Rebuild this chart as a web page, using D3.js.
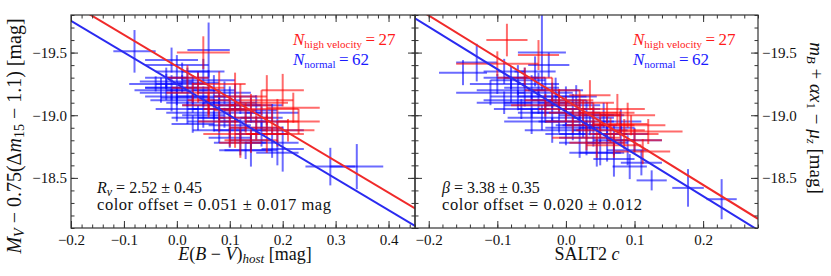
<!DOCTYPE html>
<html>
<head>
<meta charset="utf-8">
<script src="https://cdn.jsdelivr.net/npm/d3@7"></script>
<style>
  body { margin: 0; background: #fff; }
  svg text { font-family: "Liberation Serif", "Times New Roman", Tinos, "DejaVu Serif", serif; }
</style>
</head>
<body>
<svg id="chart" width="831" height="276"></svg>
<script>
// ---- data: [x, y, xerr, yerr] ----
var leftBlue = [
  [-0.08,-19.51,0.04,0.17],[-0.01,-19.44,0.05,0.10],[0.06,-19.52,0.04,0.22],[0.00,-19.40,0.06,0.08],
  [-0.02,-19.27,0.05,0.06],[-0.01,-19.22,0.05,0.10],[-0.02,-19.18,0.05,0.06],[0.00,-19.15,0.06,0.07],
  [-0.01,-19.12,0.04,0.09],[0.01,-19.25,0.05,0.07],[0.02,-19.30,0.04,0.08],[0.03,-19.20,0.05,0.12],
  [0.00,-19.05,0.04,0.10],[0.03,-19.10,0.05,0.08],[0.04,-19.26,0.04,0.09],[0.05,-19.15,0.05,0.08],
  [0.05,-19.00,0.04,0.10],[0.06,-19.08,0.05,0.07],[0.07,-19.20,0.04,0.12],[0.07,-18.95,0.05,0.08],
  [0.08,-19.05,0.05,0.09],[0.08,-19.12,0.04,0.07],[0.09,-18.98,0.05,0.08],[0.10,-19.10,0.05,0.13],
  [0.10,-18.92,0.04,0.10],[0.11,-19.02,0.05,0.08],[0.12,-18.88,0.05,0.09],[0.12,-19.08,0.04,0.07],
  [0.13,-18.95,0.05,0.08],[0.14,-19.04,0.05,0.10],[0.14,-18.80,0.04,0.08],[0.15,-18.90,0.05,0.09],
  [0.16,-18.85,0.05,0.10],[0.17,-18.95,0.04,0.08],[0.18,-18.78,0.05,0.12],[0.19,-18.88,0.05,0.09],
  [0.20,-18.73,0.04,0.18],[0.13,-18.72,0.05,0.07],[0.29,-18.59,0.047,0.15],[0.34,-18.59,0.05,0.18],
  [-0.03,-19.20,0.05,0.10],[-0.02,-19.30,0.04,0.08],[0.01,-19.35,0.05,0.07],[0.02,-19.02,0.04,0.09],
  [0.04,-18.98,0.05,0.10],[0.06,-19.28,0.05,0.08],[0.09,-19.18,0.05,0.09],[0.11,-19.15,0.04,0.10],
  [0.15,-19.08,0.05,0.08],[0.16,-18.98,0.04,0.09],[0.18,-19.02,0.05,0.07],[0.08,-18.88,0.05,0.10],
  [0.10,-18.82,0.04,0.08],[0.12,-18.78,0.05,0.10],[0.03,-18.93,0.04,0.07],[-0.04,-19.25,0.05,0.06],
  [0.00,-19.22,0.06,0.10],[0.02,-19.14,0.05,0.07],[0.05,-19.35,0.04,0.10],[0.07,-19.05,0.05,0.08],
  [0.14,-18.72,0.05,0.13],[0.19,-18.70,0.04,0.10]
];
var leftRed = [
  [0.05,-19.50,0.05,0.13],[0.02,-19.30,0.04,0.10],[0.04,-19.22,0.05,0.12],[0.06,-19.12,0.04,0.12],
  [0.08,-19.25,0.05,0.10],[0.10,-19.05,0.05,0.10],[0.11,-19.04,0.04,0.30],[0.12,-19.15,0.05,0.10],
  [0.13,-18.98,0.05,0.12],[0.14,-19.08,0.04,0.09],[0.15,-18.90,0.05,0.10],[0.16,-19.10,0.05,0.10],
  [0.17,-19.12,0.05,0.20],[0.17,-18.85,0.04,0.15],[0.18,-18.95,0.05,0.10],[0.19,-19.05,0.04,0.08],
  [0.20,-19.20,0.04,0.13],[0.22,-19.06,0.05,0.12],[0.19,-18.85,0.05,0.10],[0.21,-18.88,0.05,0.09],
  [0.08,-18.95,0.04,0.08],[0.10,-18.85,0.05,0.10],[0.12,-18.78,0.04,0.12],[0.14,-18.80,0.05,0.10],
  [0.06,-19.08,0.05,0.10],[0.03,-19.18,0.05,0.08],[0.23,-18.95,0.04,0.10]
];
var rightBlue = [
  [-0.15,-19.34,0.035,0.10],[-0.13,-19.42,0.03,0.15],[-0.035,-19.50,0.035,0.30],[-0.09,-19.35,0.03,0.10],
  [-0.10,-19.25,0.04,0.08],[-0.08,-19.20,0.05,0.10],[-0.07,-19.28,0.04,0.12],[-0.06,-19.15,0.05,0.08],
  [-0.05,-19.22,0.04,0.10],[-0.04,-19.10,0.05,0.09],[-0.03,-19.18,0.04,0.12],[-0.02,-19.05,0.05,0.10],
  [-0.01,-19.12,0.04,0.08],[0.00,-19.02,0.05,0.10],[0.01,-19.08,0.04,0.09],[0.02,-18.95,0.05,0.10],
  [0.03,-19.00,0.04,0.12],[0.035,-18.92,0.04,0.08],[0.04,-18.85,0.05,0.10],[0.05,-18.70,0.03,0.10],
  [0.06,-18.90,0.04,0.09],[0.07,-18.80,0.03,0.12],[0.093,-18.59,0.025,0.10],[0.125,-18.48,0.022,0.08],
  [0.178,-18.42,0.023,0.15],[0.227,-18.33,0.022,0.16],[-0.06,-19.30,0.03,0.08],[-0.05,-19.08,0.04,0.10],
  [-0.04,-19.25,0.03,0.09],[-0.03,-19.02,0.04,0.08],[-0.02,-19.15,0.05,0.11],[-0.01,-18.95,0.03,0.09],
  [0.00,-19.10,0.04,0.13],[0.01,-18.90,0.04,0.10],[0.02,-19.05,0.03,0.08],[0.03,-18.82,0.04,0.14],
  [0.04,-18.98,0.03,0.09],[0.05,-18.88,0.04,0.10],[0.06,-18.78,0.03,0.15],[0.08,-18.85,0.04,0.09],
  [0.09,-18.72,0.03,0.12],[0.10,-18.80,0.04,0.10],[-0.08,-19.30,0.04,0.09],[-0.07,-19.12,0.05,0.08],
  [-0.11,-19.18,0.05,0.10],[-0.09,-19.10,0.04,0.09],[-0.02,-18.88,0.04,0.10],[0.00,-18.85,0.03,0.09],
  [-0.05,-18.95,0.04,0.10],[0.02,-18.78,0.03,0.12],[0.045,-18.70,0.04,0.11],[0.07,-18.65,0.03,0.14],
  [-0.015,-19.20,0.04,0.10],[0.015,-19.15,0.03,0.09],[-0.035,-18.98,0.05,0.10],[-0.065,-19.05,0.04,0.08],
  [0.055,-19.00,0.03,0.10],[0.025,-18.92,0.04,0.10],[-0.045,-19.35,0.03,0.12],[-0.025,-19.40,0.03,0.10],
  [0.11,-18.62,0.03,0.10],[0.08,-18.95,0.03,0.10]
];
var rightRed = [
  [-0.086,-19.60,0.03,0.13],[-0.10,-19.41,0.06,0.10],[-0.04,-19.48,0.03,0.12],[-0.02,-19.20,0.04,0.10],
  [-0.01,-19.12,0.05,0.09],[0.00,-19.05,0.04,0.10],[0.02,-19.10,0.05,0.10],[0.035,-19.16,0.03,0.12],
  [0.04,-19.00,0.04,0.10],[0.05,-18.92,0.05,0.10],[0.06,-19.02,0.04,0.08],[0.07,-18.76,0.04,0.10],
  [0.079,-18.93,0.04,0.10],[0.085,-18.85,0.05,0.12],[0.09,-19.00,0.04,0.10],[0.10,-18.80,0.04,0.09],
  [0.112,-18.71,0.04,0.10],[0.12,-18.87,0.05,0.10],[0.03,-18.82,0.05,0.10],[0.01,-18.95,0.04,0.09],
  [-0.03,-19.08,0.05,0.09],[0.065,-18.88,0.05,0.10],[0.045,-18.78,0.04,0.12],[0.095,-18.92,0.05,0.08],
  [-0.06,-19.30,0.04,0.08],[0.025,-19.02,0.05,0.10],[0.075,-19.05,0.04,0.12]
];
// fitted lines: [slope, intercept]
var leftFits = { blue: [2.52, -19.25], red: [2.52, -19.39] };
var rightFits = { blue: [3.38, -19.03], red: [3.38, -19.12] };

var leftXTicks = [-0.2, -0.1, 0.0, 0.1, 0.2, 0.3, 0.4];
var rightXTicks = [-0.2, -0.1, 0.0, 0.1, 0.2];
var yTicks = [-19.5, -19.0, -18.5];

var svg = d3.select("#chart");
var plotTop = 15, plotBottom = 228;
var y = d3.scaleLinear().domain([-19.8, -18.1]).range([plotTop, plotBottom]);
var fmt = d3.format(".1f");

function drawPanel(id, x0, x1, xdom, xticks, xminorStep, blue, red, fits, yLabelsLeft) {
    var x = d3.scaleLinear().domain(xdom).range([x0, x1]);
    var g = svg.append("g");

    svg.append("clipPath").attr("id", "clip-" + id)
        .append("rect").attr("x", x0).attr("y", plotTop).attr("width", x1 - x0).attr("height", plotBottom - plotTop);

    var plot = g.append("g").attr("clip-path", "url(#clip-" + id + ")");

    function bars(data, color) {
        var s = plot.append("g").attr("stroke", color).attr("stroke-width", 2).attr("stroke-opacity", 0.58);
        s.selectAll(".h").data(data).enter().append("line")
            .attr("x1", function(d) { return x(d[0] - d[2]); })
            .attr("x2", function(d) { return x(d[0] + d[2]); })
            .attr("y1", function(d) { return y(d[1]); })
            .attr("y2", function(d) { return y(d[1]); });
        s.selectAll(".v").data(data).enter().append("line")
            .attr("x1", function(d) { return x(d[0]); })
            .attr("x2", function(d) { return x(d[0]); })
            .attr("y1", function(d) { return y(d[1] - d[3]); })
            .attr("y2", function(d) { return y(d[1] + d[3]); });
    }
    bars(blue, "#0000ff");
    bars(red, "#ff0000");

    var line = d3.line().x(function(d) { return x(d[0]); }).y(function(d) { return y(d[1]); });
    [["blue", "#2a2af0"], ["red", "#f02a2a"]].forEach(function(c) {
        var f = fits[c[0]];
        var pts = xdom.map(function(v) { return [v, f[1] + f[0] * v]; });
        plot.append("path").attr("d", line(pts)).attr("fill", "none")
            .attr("stroke", c[1]).attr("stroke-width", 2);
    });

    // axes with inward ticks
    var xminor = d3.range(Math.ceil(xdom[0] / xminorStep - 1e-6), Math.floor(xdom[1] / xminorStep + 1e-6) + 1)
        .map(function(i) { return +(i * xminorStep).toFixed(3); });
    var yminor = d3.range(-19.8, -18.05, 0.1).map(function(v) { return +v.toFixed(2); });

    function addAxis(axis, tx, ty) {
        var a = g.append("g").attr("transform", "translate(" + tx + "," + ty + ")").call(axis);
        a.attr("font-family", null);
        a.select(".domain").remove();
        a.selectAll(".tick line").attr("stroke", "#333").attr("stroke-width", 1);
        a.selectAll("text").attr("font-size", 15).attr("fill", "#111");
        return a;
    }
    addAxis(d3.axisBottom(x).tickValues(xticks).tickSize(-7).tickFormat(fmt), 0, plotBottom)
        .selectAll("text").attr("y", 6);
    addAxis(d3.axisBottom(x).tickValues(xminor).tickSize(-3.5).tickFormat(""), 0, plotBottom);
    addAxis(d3.axisTop(x).tickValues(xticks).tickSize(-7).tickFormat(""), 0, plotTop);
    addAxis(d3.axisTop(x).tickValues(xminor).tickSize(-3.5).tickFormat(""), 0, plotTop);

    var yl = addAxis(d3.axisLeft(y).tickValues(yTicks).tickSize(-7).tickFormat(yLabelsLeft ? fmt : ""), x0, 0);
    addAxis(d3.axisLeft(y).tickValues(yminor).tickSize(-3.5).tickFormat(""), x0, 0);
    var yr = addAxis(d3.axisRight(y).tickValues(yTicks).tickSize(-7).tickFormat(yLabelsLeft ? "" : fmt), x1, 0);
    addAxis(d3.axisRight(y).tickValues(yminor).tickSize(-3.5).tickFormat(""), x1, 0);
    yl.selectAll("text").attr("x", -4);
    yr.selectAll("text").attr("x", 4);

    g.append("rect").attr("x", x0).attr("y", plotTop).attr("width", x1 - x0).attr("height", plotBottom - plotTop)
        .attr("fill", "none").attr("stroke", "#333").attr("stroke-width", 1.2);

    return x;
}

drawPanel("l", 71, 415, [-0.2, 0.45], leftXTicks, 0.02, leftBlue, leftRed, leftFits, true);
drawPanel("r", 415, 758, [-0.22, 0.28], rightXTicks, 0.02, rightBlue, rightRed, rightFits, false);

// ---- text ----
function span(t, text, size, shift, italic) {
    var s = t.append("tspan").attr("font-size", size).text(text);
    if (shift) s.attr("baseline-shift", shift);
    if (italic) s.attr("font-style", "italic");
    return s;
}
function nLabels(x0) {
    var t1 = svg.append("text").attr("x", x0).attr("y", 45).attr("fill", "#ff1a1a").attr("font-size", 16);
    span(t1, "N", 17, null, true);
    span(t1, "high velocity", 11, -3);
    span(t1, "\u2009=\u200927", 17);
    var t2 = svg.append("text").attr("x", x0).attr("y", 65).attr("fill", "#1a1aff").attr("font-size", 16);
    span(t2, "N", 17, null, true);
    span(t2, "normal", 11, -3);
    span(t2, "\u2009=\u200962", 17);
}
nLabels(293);
nLabels(633);

var r1 = svg.append("text").attr("x", 97).attr("y", 193).attr("font-size", 16).attr("fill", "#111");
span(r1, "R", 16, null, true); span(r1, "v", 12, -3, true); span(r1, " = 2.52 \u00b1 0.45", 16);
svg.append("text").attr("x", 97).attr("y", 210).attr("font-size", 16.5).attr("fill", "#111")
    .attr("textLength", 234).attr("lengthAdjust", "spacing")
    .text("color offset = 0.051 \u00b1 0.017 mag");

var b1 = svg.append("text").attr("x", 442).attr("y", 193).attr("font-size", 16).attr("fill", "#111");
span(b1, "\u03b2", 16, null, true); span(b1, " = 3.38 \u00b1 0.35", 16);
svg.append("text").attr("x", 442).attr("y", 210).attr("font-size", 16.5).attr("fill", "#111")
    .attr("textLength", 200).attr("lengthAdjust", "spacing")
    .text("color offset = 0.020 \u00b1 0.012");

// x labels
var xl = svg.append("text").attr("x", 245).attr("y", 260).attr("text-anchor", "middle").attr("font-size", 18).attr("fill", "#111");
span(xl, "E", 18, null, true); span(xl, "(", 18); span(xl, "B", 18, null, true); span(xl, " \u2212 ", 18);
span(xl, "V", 18, null, true); span(xl, ")", 18); span(xl, "host", 13, -3, true); span(xl, " [mag]", 18);
var xr = svg.append("text").attr("x", 587).attr("y", 260).attr("text-anchor", "middle").attr("font-size", 18).attr("fill", "#111");
span(xr, "SALT2 ", 18); span(xr, "c", 18, null, true);

// y labels
var ylab = svg.append("text").attr("transform", "translate(21,136)rotate(-90)").attr("text-anchor", "middle")
    .attr("font-size", 20).attr("fill", "#111");
span(ylab, "M", 20, null, true); span(ylab, "V", 14, -3, true); span(ylab, " \u2212 0.75(\u0394", 20);
span(ylab, "m", 20, null, true); span(ylab, "15", 14, -3); span(ylab, " \u2212 1.1) [mag]", 20);

var yrlab = svg.append("text").attr("transform", "translate(810,118)rotate(90)").attr("text-anchor", "middle")
    .attr("font-size", 19).attr("fill", "#111");
span(yrlab, "m", 19, null, true); span(yrlab, "B", 13, -3, true); span(yrlab, " + ", 19);
span(yrlab, "\u03b1x", 19, null, true); span(yrlab, "1", 13, -3); span(yrlab, " \u2212 ", 19);
span(yrlab, "\u03bc", 19, null, true); span(yrlab, "z", 13, -3, true); span(yrlab, " [mag]", 19);
</script>
</body>
</html>
